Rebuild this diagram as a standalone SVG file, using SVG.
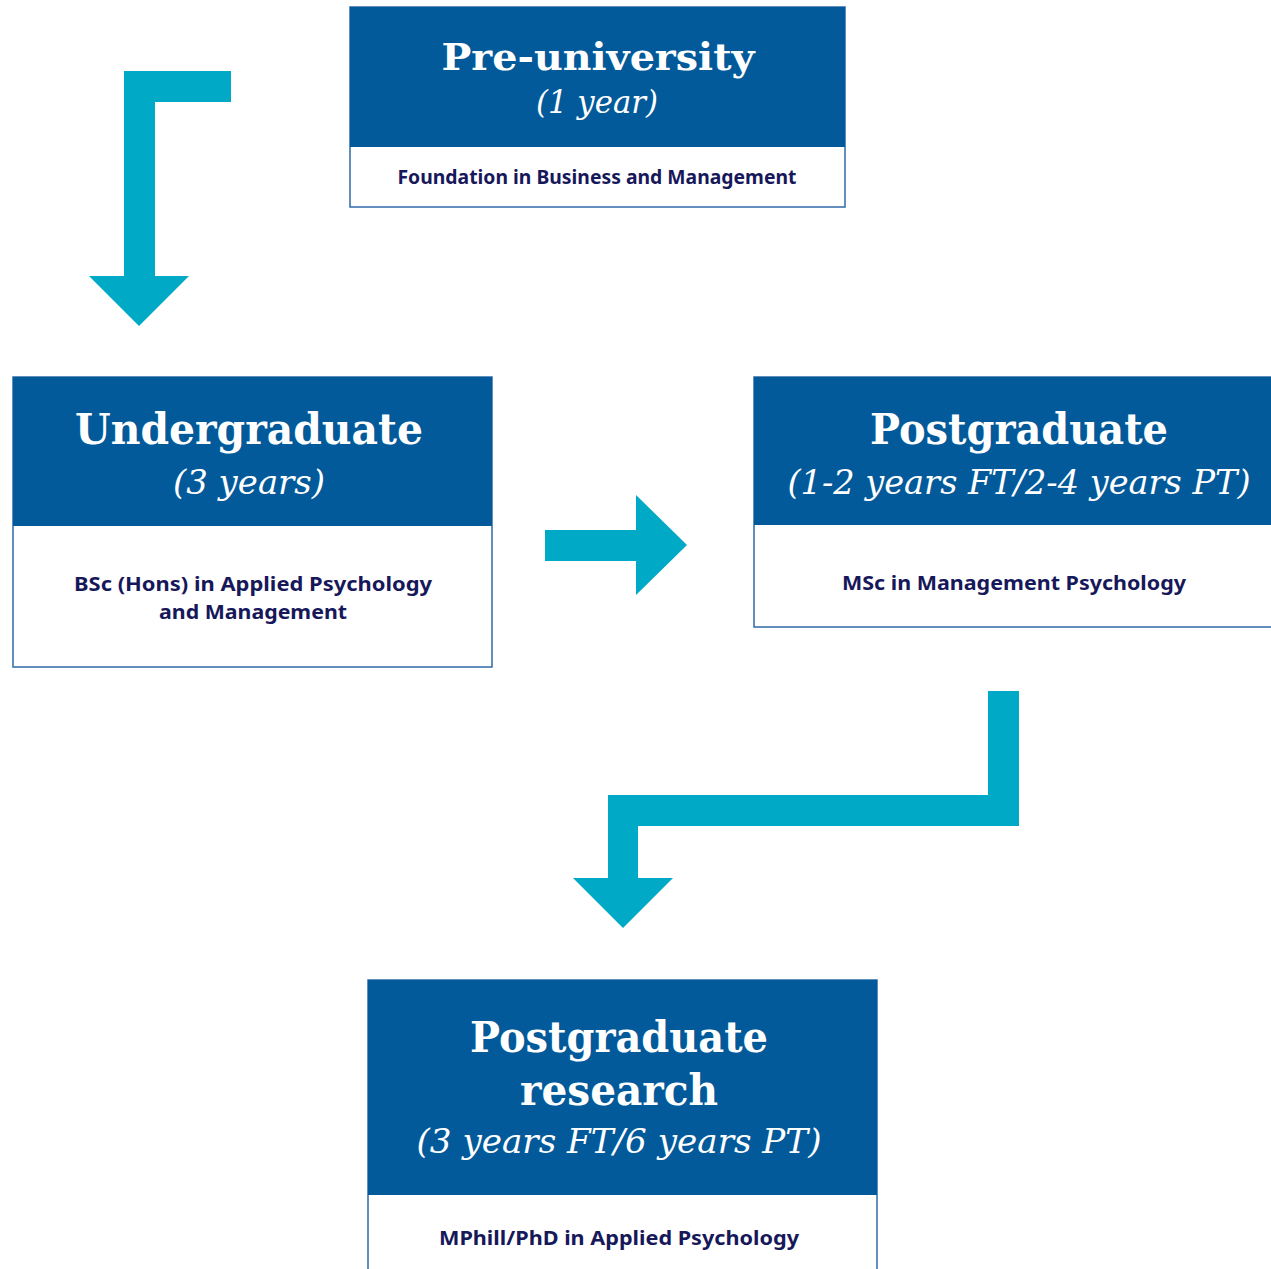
<svg xmlns="http://www.w3.org/2000/svg" width="1271" height="1269" viewBox="0 0 1271 1269">
<style>
.box{fill:#ffffff;stroke:#2f6aa8;stroke-width:1.5}
.head{fill:#035a9a}
.title{font-family:"DejaVu Serif",serif;font-weight:bold;fill:#ffffff;text-anchor:middle}
.sub{font-family:"DejaVu Serif",serif;font-style:italic;fill:#ffffff;text-anchor:middle}
.body{font-family:"Noto Sans","Liberation Sans",sans-serif;font-weight:bold;fill:#17185a;text-anchor:middle;font-size:20px}
.arrow{fill:#00a9c6}
</style>
<rect width="1271" height="1269" fill="#ffffff"/>
<g id="connectors">
<polygon class="arrow" points="124,71 231,71 231,102 155,102 155,276 189,276 139,326 89,276 124,276"/>
<polygon class="arrow" points="545,530 636,530 636,495 687,545 636,595 636,561 545,561"/>
<polygon class="arrow" points="988,691 1019,691 1019,826 638,826 638,878 673,878 623,928 573,878 608,878 608,795 988,795"/>
</g>
<g id="pre-university">
<rect class="box" x="350" y="7" width="495" height="200"/>
<rect class="head" x="350" y="7" width="495" height="140"/>
<text class="title" x="598" y="70" font-size="38" textLength="313" lengthAdjust="spacingAndGlyphs">Pre-university</text>
<text class="sub" x="597" y="113" font-size="32" textLength="122" lengthAdjust="spacingAndGlyphs">(1 year)</text>
<text class="body" x="597" y="184" textLength="399" lengthAdjust="spacingAndGlyphs">Foundation in Business and Management</text>
</g>
<g id="undergraduate">
<rect class="box" x="13" y="377" width="479" height="290"/>
<rect class="head" x="13" y="377" width="479" height="149"/>
<text class="title" x="249" y="444" font-size="43" textLength="348" lengthAdjust="spacingAndGlyphs">Undergraduate</text>
<text class="sub" x="249" y="494" font-size="34" textLength="152" lengthAdjust="spacingAndGlyphs">(3 years)</text>
<text class="body" x="253" y="591" textLength="358" lengthAdjust="spacingAndGlyphs">BSc (Hons) in Applied Psychology</text>
<text class="body" x="253" y="619" textLength="188" lengthAdjust="spacingAndGlyphs">and Management</text>
</g>
<g id="postgraduate">
<rect class="box" x="754" y="377" width="530" height="250"/>
<rect class="head" x="754" y="377" width="530" height="148"/>
<text class="title" x="1019" y="444" font-size="43" textLength="298" lengthAdjust="spacingAndGlyphs">Postgraduate</text>
<text class="sub" x="1019" y="494" font-size="34" textLength="463" lengthAdjust="spacingAndGlyphs">(1-2 years FT/2-4 years PT)</text>
<text class="body" x="1014" y="590" textLength="344" lengthAdjust="spacingAndGlyphs">MSc in Management Psychology</text>
</g>
<g id="postgraduate-research">
<rect class="box" x="368" y="980" width="509" height="300"/>
<rect class="head" x="368" y="980" width="509" height="215"/>
<text class="title" x="619" y="1052" font-size="43" textLength="298" lengthAdjust="spacingAndGlyphs">Postgraduate</text>
<text class="title" x="619" y="1105" font-size="43" textLength="198" lengthAdjust="spacingAndGlyphs">research</text>
<text class="sub" x="619" y="1153" font-size="34" textLength="405" lengthAdjust="spacingAndGlyphs">(3 years FT/6 years PT)</text>
<text class="body" x="619" y="1245" textLength="360" lengthAdjust="spacingAndGlyphs">MPhill/PhD in Applied Psychology</text>
</g>
</svg>
